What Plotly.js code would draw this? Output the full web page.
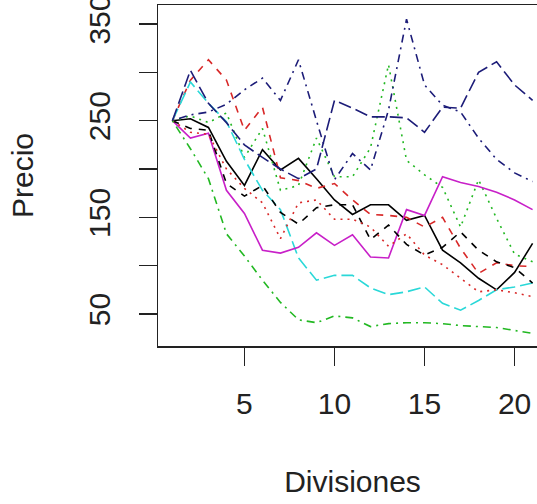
<!DOCTYPE html>
<html>
<head>
<meta charset="utf-8">
<script src="https://cdn.plot.ly/plotly-3.0.1.min.js"></script>
<style>
html, body { margin: 0; padding: 0; overflow: hidden; background: #fff; }
#chart { width: 560px; height: 504px; }
</style>
</head>
<body>
<div id="chart"></div>
<script>
// Divisiones (x) 1..21
const divisiones = [1,2,3,4,5,6,7,8,9,10,11,12,13,14,15,16,17,18,19,20,21];

// Price series (Precio)
const serie1  = [250,252,243,208,183,220,199,211,190,168,153,163,163,147,152,116,103,87,75,93,123];
const serie2  = [250,292,313,292,240,264,191,188,180,185,168,153,152,150,140,150,118,92,103,100,99];
const serie3  = [250,255,248,258,212,242,178,183,232,192,192,222,308,209,194,181,140,189,149,112,104];
const serie4  = [250,256,259,267,282,294,271,313,250,189,216,199,261,355,287,266,259,232,210,196,187];
const serie5  = [250,290,268,249,210,178,158,108,85,90,90,77,70,73,78,61,54,64,75,78,82];
const serie6  = [250,232,237,178,154,116,113,119,134,121,132,109,108,158,152,192,186,182,176,168,158];
const serie7  = [250,242,240,185,172,183,155,143,160,163,163,127,142,122,111,119,135,116,104,98,82];
const serie8  = [250,238,236,200,180,165,128,165,168,148,148,140,120,133,111,101,87,73,75,72,68];
const serie9  = [250,221,190,133,110,85,62,44,41,48,46,37,40,41,41,40,38,37,36,33,30];
const serie10 = [250,302,268,248,225,212,200,190,200,271,263,254,254,253,238,264,263,300,311,287,271];

const series = [serie1, serie2, serie3, serie4, serie5, serie6, serie7, serie8, serie9, serie10];
const colores = ['#000000', '#d82828', '#22b822', '#1c1c78', '#2ad8d8', '#c820c8',
                 '#000000', '#d82828', '#22b822', '#1c1c78'];
const estilos = ['solid', '7px,7px', '2px,5px', '2px,5px,8px,5px', '13px,5px', 'solid',
                 '7px,7px', '2px,5px', '2px,5px,8px,5px', '13px,5px'];

const yTicks = [50,100,150,200,250,300,350];
const yTickText = ['50','','150','','250','','350'];
const xTicks = [5,10,15,20];

const traces = series.map((s, i) => ({
  x: divisiones,
  y: s,
  type: 'scatter',
  mode: 'lines',
  line: { color: colores[i], width: 1.6, dash: estilos[i] },
  hoverinfo: 'skip',
  showlegend: false
}));

const fontFam = 'Liberation Sans, Arial, sans-serif';
const layout = {
  width: 560,
  height: 504,
  margin: { l: 158, r: 13, t: 5, b: 158 },
  paper_bgcolor: '#fff',
  plot_bgcolor: '#fff',
  showlegend: false,
  font: { family: fontFam, size: 30, color: '#222' },
  xaxis: {
    range: [0.2, 21.8],
    tickvals: xTicks,
    ticks: 'outside',
    ticklen: 18,
    tickwidth: 1.5,
    tickcolor: '#222',
    showline: true,
    mirror: true,
    linecolor: '#222',
    linewidth: 1.5,
    showgrid: false,
    zeroline: false,
    ticklabelstandoff: 12,
    ticklabeloverflow: 'allow',
    tickfont: { family: fontFam, size: 30, color: '#222' },
    title: { text: 'Divisiones', font: { family: fontFam, size: 30, color: '#222' }, standoff: 52 }
  },
  yaxis: {
    range: [16.9, 369.7],
    tickvals: yTicks,
    ticktext: yTickText,
    tickangle: -90,
    ticks: 'outside',
    ticklen: 18,
    tickwidth: 1.5,
    tickcolor: '#222',
    showline: true,
    mirror: true,
    linecolor: '#222',
    linewidth: 1.5,
    showgrid: false,
    zeroline: false,
    ticklabelstandoff: 17,
    ticklabeloverflow: 'allow',
    tickfont: { family: fontFam, size: 30, color: '#222' },
    title: { text: 'Precio', font: { family: fontFam, size: 30, color: '#222' }, standoff: 40 }
  }
};

Plotly.newPlot('chart', traces, layout, { staticPlot: true, displayModeBar: false });
</script>
</body>
</html>
